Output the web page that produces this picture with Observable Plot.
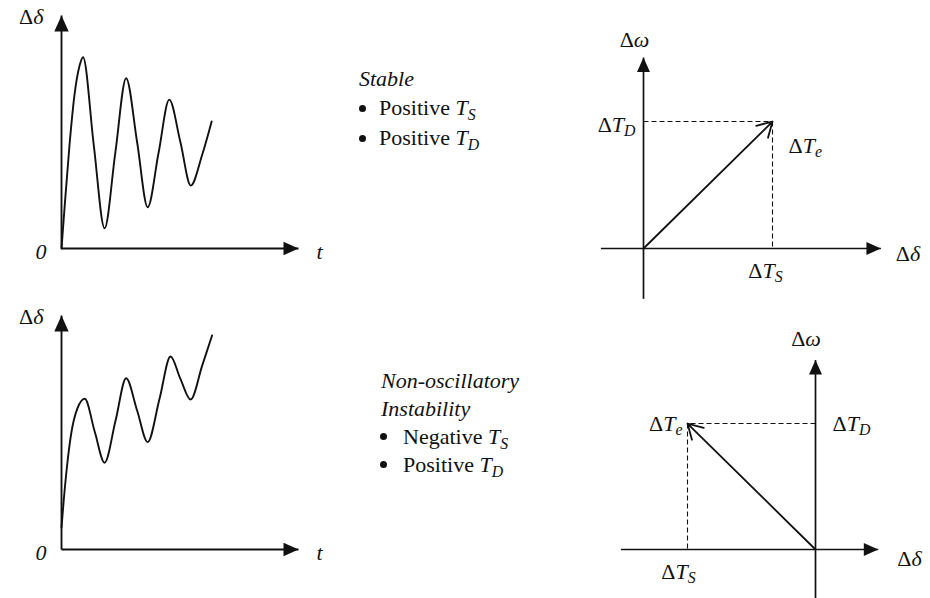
<!DOCTYPE html>
<html>
<head>
<meta charset="utf-8">
<script src="https://cdn.jsdelivr.net/npm/d3@7"></script>
<script src="https://cdn.jsdelivr.net/npm/@observablehq/plot@0.6"></script>
<style>
  html, body { margin: 0; padding: 0; background: #fff; }
  #figure {
    position: relative; width: 930px; height: 598px; overflow: hidden; background: #fff;
    font-family: "Liberation Serif", "Times New Roman", serif; color: #111;
  }
  #figure svg { position: absolute; left: 0; top: 0; }
  .note { position: absolute; font-family: "Liberation Serif", "Times New Roman", serif; font-size: 22px; white-space: nowrap; }
  .note ul { list-style: none; margin: 0; padding: 0; }
  .note li { position: relative; }
  .note li::before {
    content: ""; position: absolute; width: 7px; height: 7px; border-radius: 50%; background: #111;
  }
  .note .sub { font-style: italic; font-size: 0.72em; vertical-align: -0.3em; line-height: 0; }
  #stable { left: 359px; top: 63.8px; line-height: 29.5px; }
  #stable li { padding-left: 20px; }
  #stable li::before { left: 0; top: 12.2px; }
  #unstable { left: 381px; top: 366.6px; line-height: 28px; }
  #unstable li { padding-left: 22px; }
  #unstable li::before { left: -1px; top: 10.5px; }
</style>
</head>
<body>
<div id="figure">
  <div class="note" id="stable">
    <div><i>Stable</i></div>
    <ul>
      <li>Positive <i>T</i><span class="sub">S</span></li>
      <li>Positive <i>T</i><span class="sub">D</span></li>
    </ul>
  </div>
  <div class="note" id="unstable">
    <div><i>Non-oscillatory</i></div>
    <div><i>Instability</i></div>
    <ul>
      <li>Negative <i>T</i><span class="sub">S</span></li>
      <li>Positive <i>T</i><span class="sub">D</span></li>
    </ul>
  </div>
</div>
<script>
// Δδ(t) in the stable case: an oscillation that dies away toward a steady value
const stableT      = [0, 0.15, 0.37, 0.6, 0.84, 1.0, 1.5, 2.0, 2.5, 3.0, 3.51, 4.0, 4.51, 5.0, 5.52, 6.0, 6.52, 6.97];
const stableDelta  = [0, 1.85, 4.42, 6.57, 7.85, 8.21, 4.42, 0.87, 4.13, 7.31, 4.56, 1.77, 4.13, 6.39, 4.56, 2.70, 3.99, 5.45];

// Δδ(t) for non-oscillatory instability: the swings ride on a steady drift upward
const unstableT     = [0, 0.11, 0.26, 0.46, 0.73, 1.08, 1.55, 2.0, 2.51, 3.0, 3.51, 4.0, 4.55, 5.06, 5.52, 5.99, 6.53, 6.99];
const unstableDelta = [0.94, 2.17, 3.59, 5.01, 6.01, 6.44, 5.01, 3.71, 5.51, 7.32, 5.94, 4.59, 6.44, 8.25, 7.29, 6.41, 7.86, 9.15];

// Extent of the time-response axes: [t, Δδ]
const timeAxis = [11, 10];

// Electrical torque components [ΔT_S, ΔT_D]
const stableTorque   = [1.0, 0.984];
const unstableTorque = [-1.0, 0.984];

// Extents of the Δδ and Δω axes in the torque diagrams
const stableDeltaAxis   = [-0.33, 1.84];
const stableOmegaAxis   = [-0.39, 1.48];
const unstableDeltaAxis = [-1.52, 0.49];
const unstableOmegaAxis = [-0.38, 1.48];

const ink = "#111";
const serif = "Liberation Serif, Times New Roman, serif";
const svgNS = "http://www.w3.org/2000/svg";

// Filled arrowheads; the tip sits on the data point
const headUp = {
  draw(ctx, size) {
    const r = Math.sqrt(size / Math.PI);
    ctx.moveTo(0, 0); ctx.lineTo(0.9 * r, 2 * r); ctx.lineTo(-0.9 * r, 2 * r); ctx.closePath();
  }
};
const headRight = {
  draw(ctx, size) {
    const r = Math.sqrt(size / Math.PI);
    ctx.moveTo(0, 0); ctx.lineTo(-2 * r, -0.9 * r); ctx.lineTo(-2 * r, 0.9 * r); ctx.closePath();
  }
};

const textStyle = {fontFamily: serif, fontSize: 22, fill: ink, lineAnchor: "bottom"};

// Symbols: Δ upright, other letters italic, "_x" sets x as a subscript
function typeset(svg) {
  for (const el of svg.querySelectorAll("text")) {
    const src = el.textContent;
    el.textContent = "";
    for (let i = 0; i < src.length; ++i) {
      let ch = src[i];
      const ts = document.createElementNS(svgNS, "tspan");
      if (ch === "_") {
        ch = src[++i];
        ts.style.fontSize = "0.72em";
        ts.setAttribute("dy", "0.28em");
      }
      if (ch !== "Δ") ts.style.fontStyle = "italic";
      ts.textContent = ch;
      el.appendChild(ts);
    }
  }
  return svg;
}

function mount(svg) {
  svg.style.background = "transparent";
  svg.style.overflow = "visible";
  svg.style.fontFamily = serif;
  document.getElementById("figure").appendChild(typeset(svg));
}

function label(x, y, text, options) {
  return Plot.text([{x, y}], {x: "x", y: "y", text: () => text, ...textStyle, ...options});
}

// Time response Δδ(t)
function timePanel(t, delta, yRange) {
  const data = t.map((v, i) => ({t: v, delta: delta[i]}));
  const [tMax, dMax] = timeAxis;
  return Plot.plot({
    width: 930, height: 598, margin: 0,
    x: {domain: [0, tMax], range: [61, 298], axis: null},
    y: {domain: [0, dMax], range: yRange, axis: null},
    marks: [
      Plot.link([{x1: 0, y1: 0, x2: tMax, y2: 0}, {x1: 0, y1: 0, x2: 0, y2: dMax}],
        {x1: "x1", y1: "y1", x2: "x2", y2: "y2", stroke: ink, strokeWidth: 1.9}),
      Plot.dot([{x: tMax, y: 0}], {x: "x", y: "y", symbol: headRight, r: 7.5, fill: ink, stroke: "none"}),
      Plot.dot([{x: 0, y: dMax}], {x: "x", y: "y", symbol: headUp, r: 8, fill: ink, stroke: "none"}),
      Plot.line(data, {x: "t", y: "delta", curve: "monotone-x", stroke: ink, strokeWidth: 1.9}),
      label(0, dMax, "Δδ", {dx: -18, dy: 8, textAnchor: "end"}),
      label(0, 0, "0", {dx: -20.5, dy: 10, textAnchor: "middle"}),
      label(tMax, 0, "t", {dx: 21, dy: 10, textAnchor: "middle"})
    ]
  });
}

// Torque diagram in the Δδ–Δω plane
function torquePanel([ts, td], deltaAxis, omegaAxis, xRange, yRange, labels) {
  return Plot.plot({
    width: 930, height: 598, margin: 0,
    x: {domain: [0, 1], range: xRange, axis: null},
    y: {domain: [0, 1], range: yRange, axis: null},
    marks: [
      Plot.link([{x1: deltaAxis[0], y1: 0, x2: deltaAxis[1], y2: 0}, {x1: 0, y1: omegaAxis[0], x2: 0, y2: omegaAxis[1]}],
        {x1: "x1", y1: "y1", x2: "x2", y2: "y2", stroke: ink, strokeWidth: 1.7}),
      Plot.dot([{x: deltaAxis[1], y: 0}], {x: "x", y: "y", symbol: headRight, r: 7.2, fill: ink, stroke: "none"}),
      Plot.dot([{x: 0, y: omegaAxis[1]}], {x: "x", y: "y", symbol: headUp, r: 7.2, fill: ink, stroke: "none"}),
      Plot.link([{x1: 0, y1: td, x2: ts, y2: td}, {x1: ts, y1: td, x2: ts, y2: 0}],
        {x1: "x1", y1: "y1", x2: "x2", y2: "y2", stroke: ink, strokeWidth: 1.1, strokeDasharray: "5,3"}),
      Plot.arrow([{x1: 0, y1: 0, x2: ts, y2: td}],
        {x1: "x1", y1: "y1", x2: "x2", y2: "y2", stroke: ink, strokeWidth: 1.8, headLength: 14, headAngle: 60}),
      ...labels(ts, td)
    ]
  });
}

mount(timePanel(stableT, stableDelta, [248, 15]));
mount(timePanel(unstableT, unstableDelta, [549, 315]));

mount(torquePanel(stableTorque, stableDeltaAxis, stableOmegaAxis, [643, 772], [248, 119], (ts, td) => [
  label(0, stableOmegaAxis[1], "Δω", {dx: -9, dy: -11, textAnchor: "middle"}),
  label(stableDeltaAxis[1], 0, "Δδ", {dx: 15, dy: 12, textAnchor: "start"}),
  label(0, td, "ΔT_D", {dx: -8, dy: 10, textAnchor: "end"}),
  label(ts, 0, "ΔT_S", {dx: -7, dy: 29, textAnchor: "middle"}),
  label(ts, td, "ΔT_e", {dx: 16, dy: 31, textAnchor: "start"})
]));

mount(torquePanel(unstableTorque, unstableDeltaAxis, unstableOmegaAxis, [815, 943], [549, 421], (ts, td) => [
  label(0, unstableOmegaAxis[1], "Δω", {dx: -9.5, dy: -14, textAnchor: "middle"}),
  label(unstableDeltaAxis[1], 0, "Δδ", {dx: 19, dy: 16, textAnchor: "start"}),
  label(0, td, "ΔT_D", {dx: 17, dy: 7, textAnchor: "start"}),
  label(ts, 0, "ΔT_S", {dx: -9, dy: 29, textAnchor: "middle"}),
  label(ts, td, "ΔT_e", {dx: -5, dy: 7, textAnchor: "end"})
]));
</script>
</body>
</html>
